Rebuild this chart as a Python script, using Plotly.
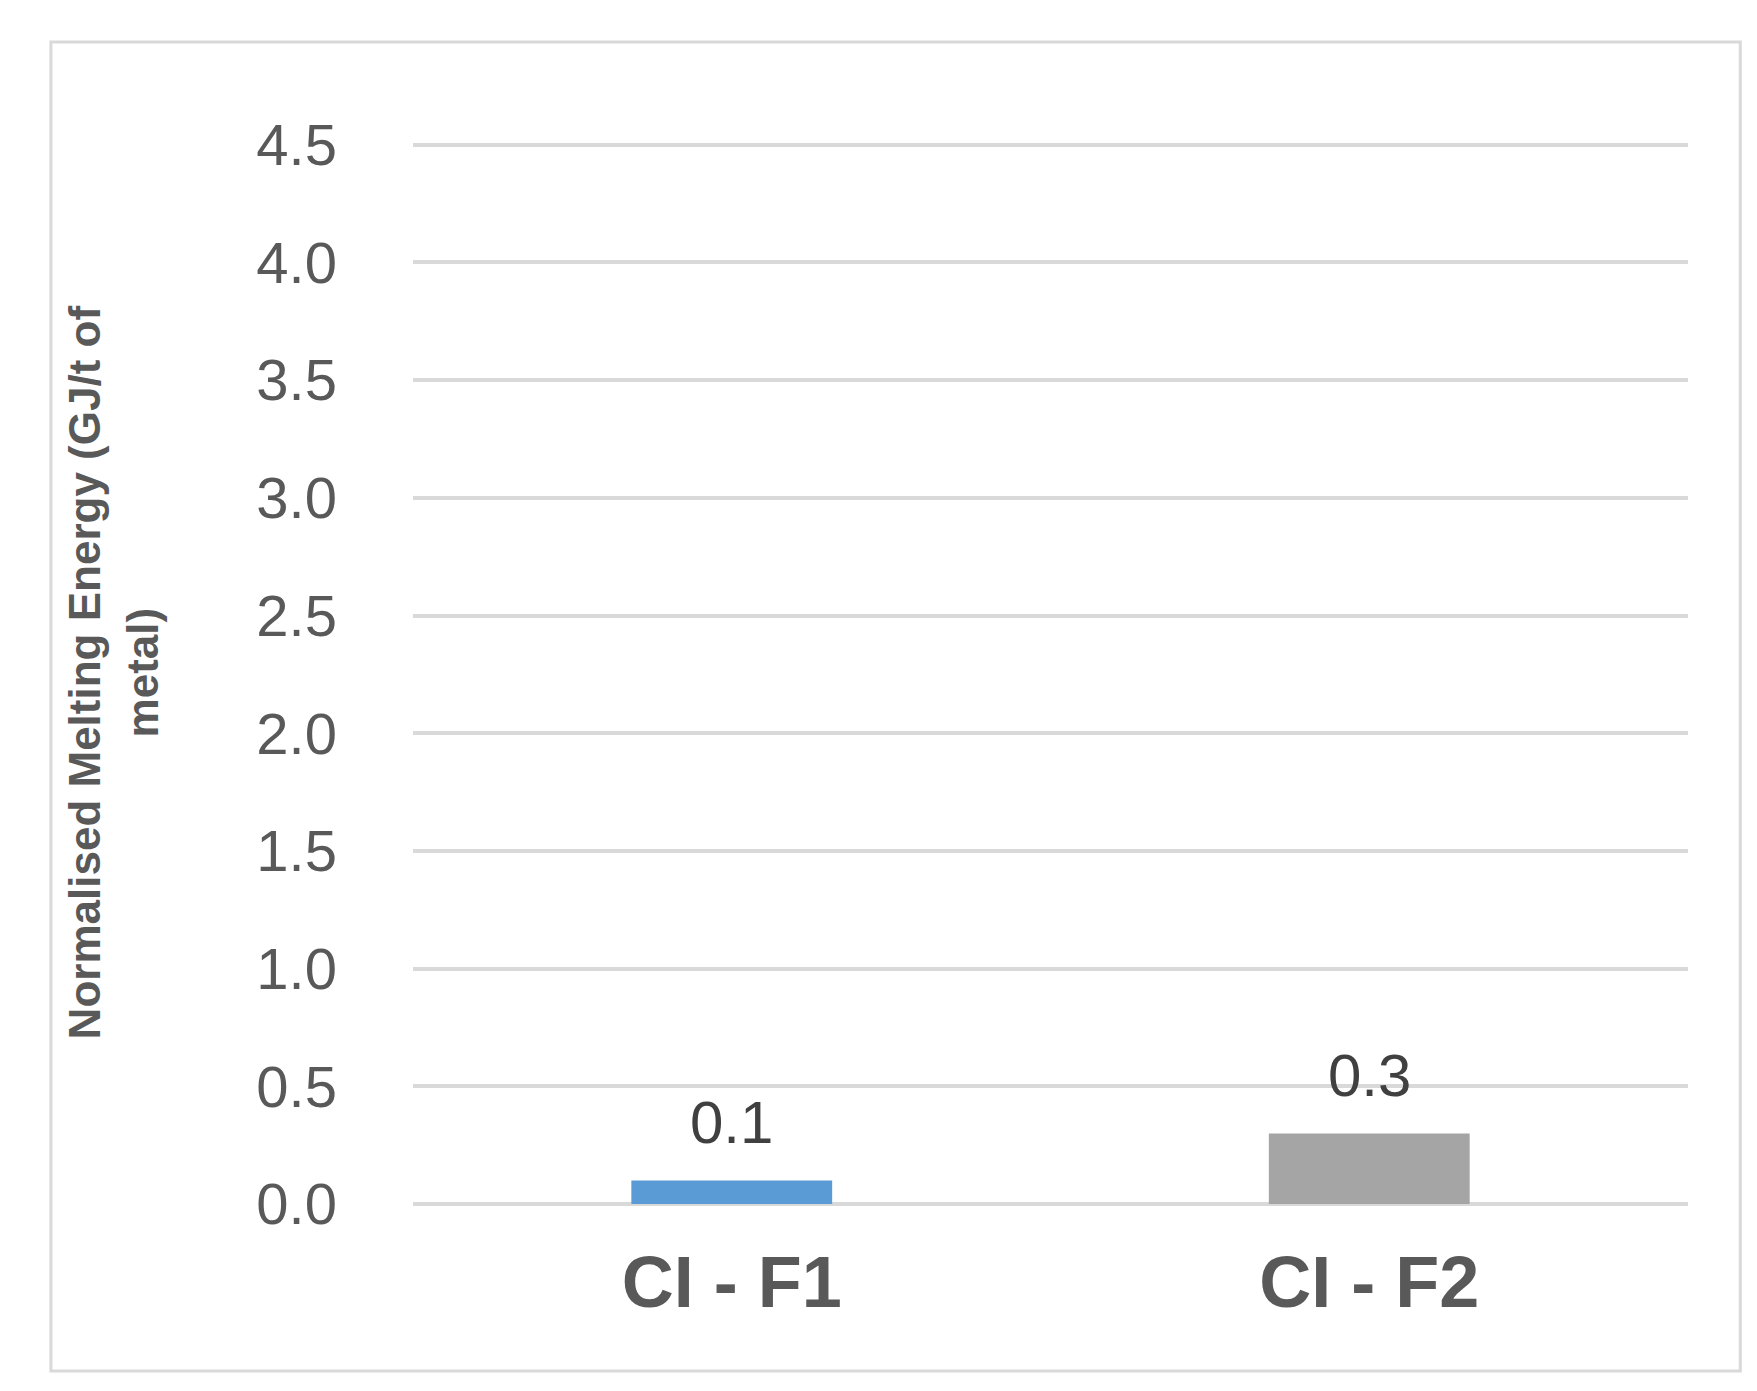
import plotly.graph_objects as go

categories = ["CI - F1", "CI - F2"]
values = [0.1, 0.3]
colors = ["#5B9BD5", "#A5A5A5"]
labels = ["0.1", "0.3"]

fig = go.Figure(go.Bar(
    x=categories, y=values, marker_color=colors, marker_line_width=0,
))

# data labels above the bars
for c, v, t in zip(categories, values, labels):
    fig.add_annotation(x=c, y=v, text=t, showarrow=False, yanchor="bottom",
                       yshift=22, font=dict(size=60, color="#404040", family="Liberation Sans"))

fig.add_annotation(text="<b>Normalised Melting Energy (GJ/t of<br>metal)</b>",
                   xref="paper", yref="paper", x=-0.235, y=0.5,
                   textangle=-90, showarrow=False,
                   font=dict(size=44, color="#595959", family="Liberation Sans"),
                   xanchor="center", yanchor="middle")

fig.update_layout(
    width=1757, height=1391,
    margin=dict(l=405, r=77, t=132, b=195),
    plot_bgcolor="white", paper_bgcolor="white",
    bargap=0.685, showlegend=False,
    font=dict(family="Liberation Sans", color="#595959"),
    shapes=[dict(type="rect", xref="paper", yref="paper",
                 x0=-0.284, x1=1.041, y0=-0.157, y1=1.092,
                 line=dict(color="#D9D9D9", width=3))],
)
fig.update_yaxes(range=[0, 4.52], tickvals=[0, 0.5, 1, 1.5, 2, 2.5, 3, 3.5, 4, 4.5],
                 tickformat=".1f",
                 gridcolor="#D9D9D9", gridwidth=4, zeroline=True,
                 zerolinecolor="#D9D9D9", zerolinewidth=4,
                 ticklabelstandoff=75,
                 tickfont=dict(size=58, color="#595959"))
fig.update_xaxes(showline=False, tickfont=dict(size=72, color="#595959", family="Liberation Sans"),
                 ticklabelstandoff=30,
                 ticktext=["<b>CI - F1</b>", "<b>CI - F2</b>"], tickvals=categories)

fig.write_html("out.html")
